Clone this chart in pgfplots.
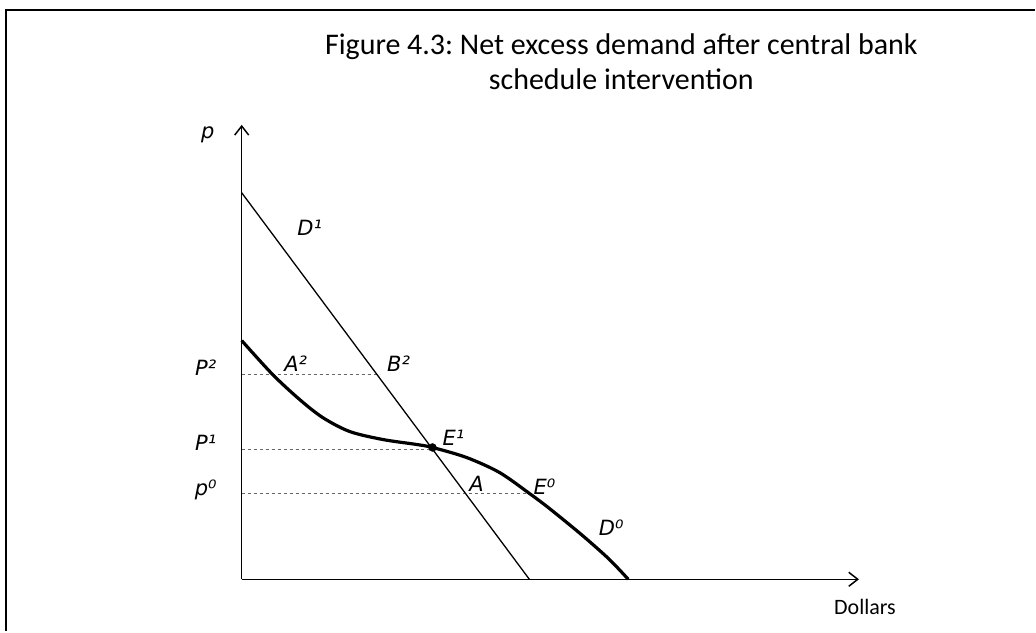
\documentclass[border=0pt]{standalone}
\usepackage{pgfplots}
\pgfplotsset{compat=1.18}
\usepackage{fontspec}
\setmainfont{Carlito}
\newfontfamily\labfont{DejaVu Sans}
\usetikzlibrary{arrows.meta}
\tikzset{lab/.style={font=\labfont\fontsize{21}{25}\selectfont\itshape}}
\begin{document}
\frenchspacing
\begin{tikzpicture}
\begin{axis}[
  width=1036pt, height=632pt, scale only axis,
  xmin=0, xmax=1036, ymin=0, ymax=632,
  y dir=reverse, % pixel coordinates, y grows downwards
  axis lines=none, clip=false,
]
% keep the whole canvas in the bounding box
\path (axis cs:0,0) rectangle (axis cs:1036,632);

% frame (left and top edges only)
\addplot[black, line width=2.5pt] coordinates {(6,632) (6,10) (1036,10)};

% axes
\addplot[black, line width=1.5pt, -{Straight Barb[length=9pt,width=14pt]}] coordinates {(242,580) (242,125)};
\addplot[black, line width=1.5pt, -{Straight Barb[length=9pt,width=14pt]}] coordinates {(242,580) (860,580)};

% dashed price levels
\addplot[gray!80!black, dashed, line width=0.8pt] coordinates {(242,375) (380,375)};
\addplot[gray!80!black, dashed, line width=0.8pt] coordinates {(242,450) (433,450)};
\addplot[gray!80!black, dashed, line width=0.8pt] coordinates {(242,494) (530,494)};

% D1
\addplot[black, line width=1.3pt] coordinates {(242,193) (530,580)};

% D0
\addplot[black, line width=3.2pt, smooth] coordinates {
  (242,341) (273,375) (300,400) (323,418) (350,432) (383,440)
  (417,445) (433,448) (467,458) (500,473) (530,494) (550,509)
  (583,536) (610,560) (629,580)
};

% E1
\addplot[only marks, mark=*, mark size=4pt, black] coordinates {(433,448)};

% title
\node[font=\fontsize{30}{35}\selectfont, align=center] at (axis cs:622,62)
  {Figure 4.3: Net excess demand after central bank\\schedule intervention};

\node[lab] at (axis cs:208,135) {p};
\node[lab] at (axis cs:310,228) {D¹};
\node[lab] at (axis cs:206,368) {P²};
\node[lab] at (axis cs:296,364) {A²};
\node[lab] at (axis cs:399,364) {B²};
\node[lab] at (axis cs:206,443) {P¹};
\node[lab] at (axis cs:454,438) {E¹};
\node[lab] at (axis cs:206,490) {p⁰};
\node[lab] at (axis cs:477,484) {A};
\node[lab] at (axis cs:545,487) {E⁰};
\node[lab] at (axis cs:612,528) {D⁰};
\node[font=\fontsize{22}{26}\selectfont] at (axis cs:866,608) {Dollars};
\end{axis}
\end{tikzpicture}
\end{document}
